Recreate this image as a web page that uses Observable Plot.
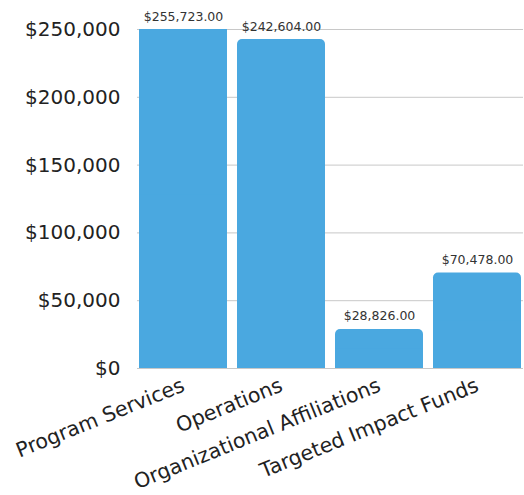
<!DOCTYPE html>
<html><head><meta charset="utf-8">
<script src="https://cdn.jsdelivr.net/npm/d3@7"></script>
<script src="https://cdn.jsdelivr.net/npm/@observablehq/plot@0.6"></script>
<style>body{margin:0;background:#fff;} svg{display:block;}</style>
</head><body><div id="chart"></div>
<script>
const categories = ["Program Services", "Operations", "Organizational Affiliations", "Targeted Impact Funds"];
const values = [255723, 242604, 28826, 70478];
const yTicks = [0, 50000, 100000, 150000, 200000, 250000];
const yMax = 250000;

const data = categories.map((c, i) => ({category: c, value: values[i]}));
const font = "DejaVu Sans";
const money = d3.format(",.2f");
const moneyTick = d3.format(",");

const chart = Plot.plot({
  width: 524,
  height: 495,
  marginTop: 29,
  marginBottom: 127,
  marginLeft: 137,
  marginRight: 1,
  style: {fontFamily: font, background: "#fff"},
  x: {domain: categories, paddingInner: 0.1, paddingOuter: 0, label: null},
  y: {domain: [0, yMax], ticks: yTicks, label: null},
  marks: [
    Plot.gridY(yTicks, {stroke: "#c8c8c8", strokeOpacity: 1, strokeWidth: 1}),
    Plot.barY(data, {x: "category", y: "value", fill: "#4aa8e0", rx: 5, clip: true}),
    Plot.barY(data, {x: "category", y: d => d.value / 2, fill: "#4aa8e0", clip: true}),
    Plot.text(data, {x: "category", y: d => Math.min(d.value, yMax), text: d => "$" + money(d.value), dy: -13, fontSize: 12.5, fill: "#333"}),
    Plot.axisY(yTicks, {tickSize: 0, tickPadding: 17, fontSize: 20, fill: "#222", tickFormat: d => "$" + moneyTick(d)}),
    Plot.axisX({tickSize: 0, tickPadding: 16, tickRotate: -22, fontSize: 20.5, fill: "#222", label: null, style: {letterSpacing: "0.6px"}})
  ]
});
document.getElementById("chart").appendChild(chart);
</script>
</body></html>
